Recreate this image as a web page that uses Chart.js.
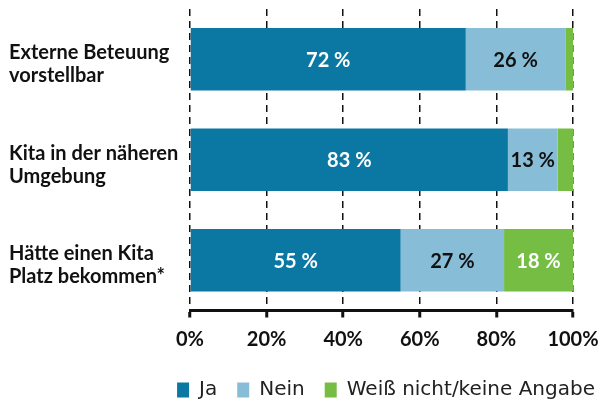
<!DOCTYPE html>
<html>
<head>
<meta charset="utf-8">
<script src="https://cdn.jsdelivr.net/npm/chart.js@4.4.0/dist/chart.umd.min.js"></script>
<style>
    html, body { margin: 0; padding: 0; background: #fff; }
    #wrap { width: 603px; height: 401px; }
</style>
</head>
<body>
<div id="wrap"><canvas id="chart" width="603" height="401"></canvas></div>
<script>
// ---- Data ------------------------------------------------------------------
const categories = [
    ["Externe Beteuung", "vorstellbar"],
    ["Kita in der näheren", "Umgebung"],
    ["Hätte einen Kita", "Platz bekommen*"],
];
const seriesNames = ["Ja", "Nein", "Weiß nicht/keine Angabe"];
const jaValues = [72, 83, 55];
const neinValues = [26, 13, 27];
const unknownValues = [2, 4, 18];
const xTicks = [0, 20, 40, 60, 80, 100];

const COLORS = ["#0a78a3", "#88bdd8", "#76be43"];
const LABEL_COLORS = ["#ffffff", "#111111", "#ffffff"];
const FONT = "Lato, 'Open Sans', sans-serif";

// ---- Value labels inside the bars -----------------------------------------
const valueLabels = {
    id: "valueLabels",
    afterDatasetsDraw(chart) {
        const { ctx } = chart;
        ctx.save();
        ctx.font = `bold 20px ${FONT}`;
        ctx.textAlign = "center";
        ctx.textBaseline = "middle";
        chart.data.datasets.forEach((ds, di) => {
            chart.getDatasetMeta(di).data.forEach((bar, i) => {
                const v = ds.data[i];
                if (v < 10) return; // too thin to label
                const cx = (bar.x + bar.base) / 2;
                ctx.fillStyle = LABEL_COLORS[di];
                ctx.fillText(`${v} %`, cx, bar.y + 1);
            });
        });
        ctx.restore();
    },
};

new Chart(document.getElementById("chart"), {
    type: "bar",
    data: {
        labels: categories,
        datasets: [jaValues, neinValues, unknownValues].map((d, i) => ({
            label: seriesNames[i],
            data: d,
            backgroundColor: COLORS[i],
            borderWidth: 0,
            barPercentage: 0.62,
            categoryPercentage: 1,
        })),
    },
    options: {
        indexAxis: "y",
        responsive: false,
        animation: false,
        // negative right/bottom padding lets the legend sit where the original has it
        layout: { padding: { left: 9, right: -12, top: 9, bottom: -9 } },
        plugins: {
            legend: {
                position: "bottom",
                align: "end",
                labels: {
                    color: "#222",
                    font: { family: "'DejaVu Sans', sans-serif", size: 20 },
                    boxWidth: 12,
                    boxHeight: 15,
                    padding: 20,
                },
            },
            tooltip: { enabled: false },
        },
        scales: {
            x: {
                stacked: true,
                min: 0,
                max: 100,
                afterBuildTicks: (scale) => {
                    scale.ticks = xTicks.map((v) => ({ value: v }));
                },
                afterFit: (scale) => {
                    scale.height = 49.5;
                    scale.paddingRight = 30;
                },
                ticks: {
                    color: "#111",
                    font: { family: FONT, size: 20, weight: "bold" },
                    padding: 10,
                    callback: (v) => `${v}%`,
                },
                grid: {
                    color: "#111",
                    lineWidth: 1.5,
                    tickLength: 7,
                    tickWidth: 3,
                    tickBorderDash: [],
                },
                border: { display: true, color: "#111", width: 3, dash: [7, 5] },
            },
            y: {
                stacked: true,
                afterFit: (scale) => {
                    scale.width = 181;
                    scale.paddingTop = 0;
                    scale.paddingBottom = 0;
                },
                ticks: {
                    crossAlign: "far",
                    labelOffset: 5,
                    color: "#111",
                    font: { family: FONT, size: 20, weight: "bold", lineHeight: 1.15 },
                },
                grid: { display: false },
                border: { display: false },
            },
        },
    },
    plugins: [valueLabels],
});
</script>
</body>
</html>
